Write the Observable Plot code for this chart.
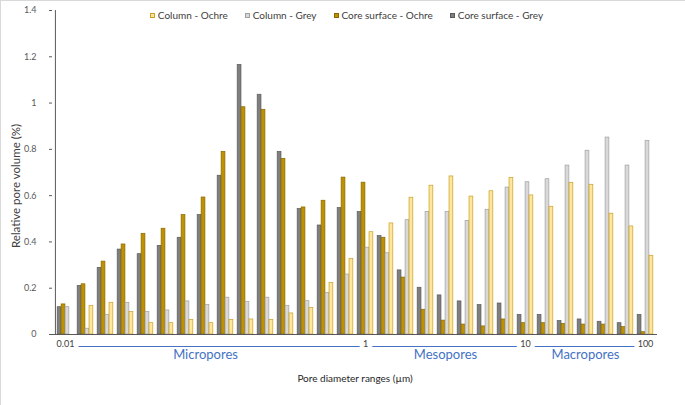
<!DOCTYPE html>
<html>
<head>
<meta charset="utf-8">
<script src="https://cdn.jsdelivr.net/npm/d3@7"></script>
<script src="https://cdn.jsdelivr.net/npm/@observablehq/plot@0.6"></script>
<style>
  body { margin: 0; background: #fff; }
  #wrap { position: relative; width: 685px; height: 405px; font-family: Lato, "Liberation Sans", sans-serif; overflow: hidden; }
  #frame { position: absolute; left: 0; top: 0; width: 685px; height: 405px; box-sizing: border-box;
           border-top: 1px solid #d9d9d9; border-left: 1px solid #d9d9d9; pointer-events: none; }
  #legend { position: absolute; top: 9px; left: 4px; width: 685px; display: flex; justify-content: center;
            gap: 17px; font-size: 10px; color: #404040; line-height: 12px; }
  .item { display: flex; align-items: center; gap: 3px; white-space: nowrap; }
  .sw { width: 5px; height: 5px; box-sizing: border-box; border: 1px solid; }
  #ylabel { position: absolute; left: 16px; top: 186px; transform: translate(-50%, -50%) rotate(-90deg);
            white-space: nowrap; font-size: 11.5px; color: #404040; line-height: 12px; }
  svg text { font-family: Lato, "Liberation Sans", sans-serif; }
</style>
</head>
<body>
<div id="wrap"><div id="frame"></div><div id="legend"></div><div id="ylabel">Relative pore volume (%)</div></div>
<script>
// ---- data ----
const groups = [1,2,3,4,5,6,7,8,9,10,11,12,13,14,15,16,17,18,19,20,21,22,23,24,25,26,27,28,29,30];
const coreGrey    = [0.118,0.210,0.288,0.367,0.347,0.383,0.418,0.516,0.686,1.165,1.036,0.789,0.542,0.471,0.546,0.529,0.425,0.277,0.202,0.169,0.143,0.127,0.134,0.085,0.085,0.058,0.065,0.055,0.049,0.085];
const coreOchre   = [0.130,0.217,0.315,0.389,0.435,0.457,0.516,0.592,0.789,0.982,0.971,0.759,0.549,0.578,0.678,0.656,0.418,0.246,0.107,0.060,0.043,0.035,0.065,0.049,0.049,0.046,0.043,0.043,0.032,0.010];
const columnGrey  = [0.118,0.025,0.085,0.137,0.097,0.104,0.143,0.128,0.159,0.140,0.159,0.124,0.144,0.179,0.259,0.375,0.351,0.494,0.529,0.530,0.491,0.539,0.635,0.658,0.671,0.730,0.794,0.851,0.730,0.837];
const columnOchre = [null,0.124,0.137,0.097,0.049,0.049,0.063,0.049,0.063,0.065,0.063,0.091,0.114,0.223,0.327,0.442,0.480,0.591,0.643,0.683,0.596,0.619,0.677,0.601,0.552,0.655,0.647,0.522,0.467,0.340];
const seriesNames = ["Core surface - Grey", "Core surface - Ochre", "Column - Grey", "Column - Ochre"];
const legendOrder = ["Column - Ochre", "Column - Grey", "Core surface - Ochre", "Core surface - Grey"];
const rangeTickGroups = [1, 16, 24, 30];
const rangeTickLabels = ["0.01", "1", "10", "100"];
const classGroups = [8, 20, 27];
const classNames = ["Micropores", "Mesopores", "Macropores"];
const yTicks = [0, 0.2, 0.4, 0.6, 0.8, 1, 1.2, 1.4];

// ---- styles ----
const styles = {
  "Core surface - Grey":  {fill: "#7f7f7f", stroke: "#5a5a5a"},
  "Core surface - Ochre": {fill: "#bf9000", stroke: "#8a6800"},
  "Column - Grey":        {fill: "#d9d9d9", stroke: "#a0a0a0"},
  "Column - Ochre":       {fill: "#ffe699", stroke: "#c9a02a"}
};

const seriesValues = [coreGrey, coreOchre, columnGrey, columnOchre];
const rows = [];
seriesNames.forEach((s, k) => groups.forEach((g, i) => {
  if (seriesValues[k][i] != null) rows.push({group: g, series: s, value: seriesValues[k][i]});
}));
const rangeTicks = rangeTickGroups.map((g, i) => ({group: g, label: rangeTickLabels[i]}));
const classes = classGroups.map((g, i) => ({group: g, name: classNames[i]}));

// legend
const leg = document.getElementById("legend");
legendOrder.forEach(s => {
  const it = document.createElement("div"); it.className = "item";
  const sw = document.createElement("div"); sw.className = "sw";
  sw.style.background = styles[s].fill; sw.style.borderColor = styles[s].stroke;
  const tx = document.createElement("span"); tx.textContent = s;
  it.appendChild(sw); it.appendChild(tx); leg.appendChild(it);
});

const W = 685, H = 405, mL = 52, mR = 28, mT = 10, mB = 71;
const bw = (W - mL - mR) / groups.length;
const barW = 3.95;
const inset = (bw - barW) / 2;

const bars = seriesNames.map((s, k) =>
  Plot.barY(rows.filter(d => d.series === s), {
    x: "group", y: "value", dx: (k - 1.5) * barW,
    insetLeft: inset, insetRight: inset,
    fill: styles[s].fill, stroke: styles[s].stroke, strokeWidth: 0.7
  })
);

const chart = Plot.plot({
  width: W, height: H,
  marginLeft: mL, marginRight: mR, marginTop: mT, marginBottom: mB,
  style: {background: "transparent", fontFamily: "Lato, 'Liberation Sans', sans-serif"},
  x: {type: "band", domain: groups, padding: 0, axis: null},
  y: {domain: [0, 1.4], axis: null},
  marks: [
    ...bars,
    Plot.ruleY([0], {stroke: "#595959", strokeWidth: 1}),
    Plot.ruleX([groups[0]], {dx: -bw / 2, y1: 0, y2: 1.4, stroke: "#595959", strokeWidth: 1}),
    Plot.axisY({ticks: yTicks, tickSize: 3, tickPadding: 13, fontSize: 9, fill: "#595959",
                stroke: "#595959", tickFormat: d3.format("~g"), label: null}),
    Plot.ruleY([0], {x1: rangeTickGroups[0], x2: rangeTickGroups[rangeTickGroups.length - 1],
                dy: 12, stroke: "#4472c4", strokeWidth: 1}),
    Plot.text(rangeTicks, {x: "group", text: "label", frameAnchor: "bottom", dy: 12, fontSize: 9,
                fill: "#404040", stroke: "white", strokeWidth: 9, paintOrder: "stroke"}),
    Plot.text(classes, {x: "group", text: "name", frameAnchor: "bottom", dy: 24, fontSize: 13,
                fill: "#4472c4"}),
    Plot.text(["Pore diameter ranges (µm)"], {frameAnchor: "bottom", dy: 47, fontSize: 10, fill: "#262626"})
  ]
});
document.getElementById("wrap").insertBefore(chart, document.getElementById("frame"));
</script>
</body>
</html>
